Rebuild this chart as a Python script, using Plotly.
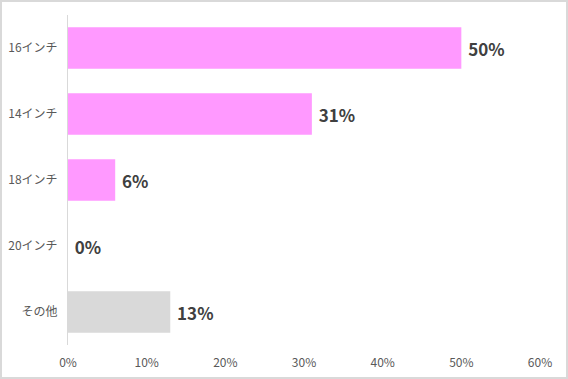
import plotly.graph_objects as go

categories = ["16インチ", "14インチ", "18インチ", "20インチ", "その他"]
values = [50, 31, 6, 0, 13]
colors = ["#FF99FF", "#FF99FF", "#FF99FF", "#FF99FF", "#D9D9D9"]
x_ticks = [0, 10, 20, 30, 40, 50, 60]
x_tick_labels = ["0%", "10%", "20%", "30%", "40%", "50%", "60%"]

font_family = "Noto Sans CJK JP, Noto Sans, sans-serif"

fig = go.Figure(go.Bar(
    y=categories,
    x=values,
    orientation="h",
    marker=dict(color=colors, line=dict(width=0)),
    text=[f"\u00a0<b>{v}%</b>" for v in values],
    textposition="outside",
    textfont=dict(size=17, color="#404040", family=font_family),
    cliponaxis=False,
    width=0.63,
))

W, H = 568, 379
L, R, T, B = 68, 28, 15, 34
pw, ph = W - L - R, H - T - B

def px_to_paper_x(px):
    return (px - L) / pw

def px_to_paper_y(py):
    return (H - B - py) / ph

fig.update_layout(
    width=W, height=H,
    margin=dict(l=L, r=R, t=T, b=B, autoexpand=False),
    paper_bgcolor="white",
    plot_bgcolor="white",
    showlegend=False,
    font=dict(family=font_family, color="#595959", size=12),
    xaxis=dict(
        range=[0, 60],
        tickvals=x_ticks,
        ticktext=x_tick_labels,
        showgrid=False,
        zeroline=False,
        showline=False,
        ticks="",
        ticklabelstandoff=9,
        tickfont=dict(size=12, color="#595959"),
        automargin=False,
        fixedrange=True,
    ),
    yaxis=dict(
        autorange="reversed",
        showgrid=False,
        zeroline=False,
        showline=True,
        linecolor="#D9D9D9",
        linewidth=1,
        ticks="",
        ticklabelstandoff=7,
        tickfont=dict(size=12, color="#595959"),
        automargin=False,
        fixedrange=True,
    ),
    shapes=[dict(
        type="rect", xref="paper", yref="paper",
        x0=px_to_paper_x(1), x1=px_to_paper_x(567),
        y0=px_to_paper_y(378), y1=px_to_paper_y(1),
        line=dict(color="#D9D9D9", width=2),
        fillcolor="rgba(0,0,0,0)",
        layer="below",
    )],
)

fig.write_html(
    "out.html",
    config={"displayModeBar": False},
    post_script="document.body.style.margin='0';document.body.style.overflow='hidden';",
)
